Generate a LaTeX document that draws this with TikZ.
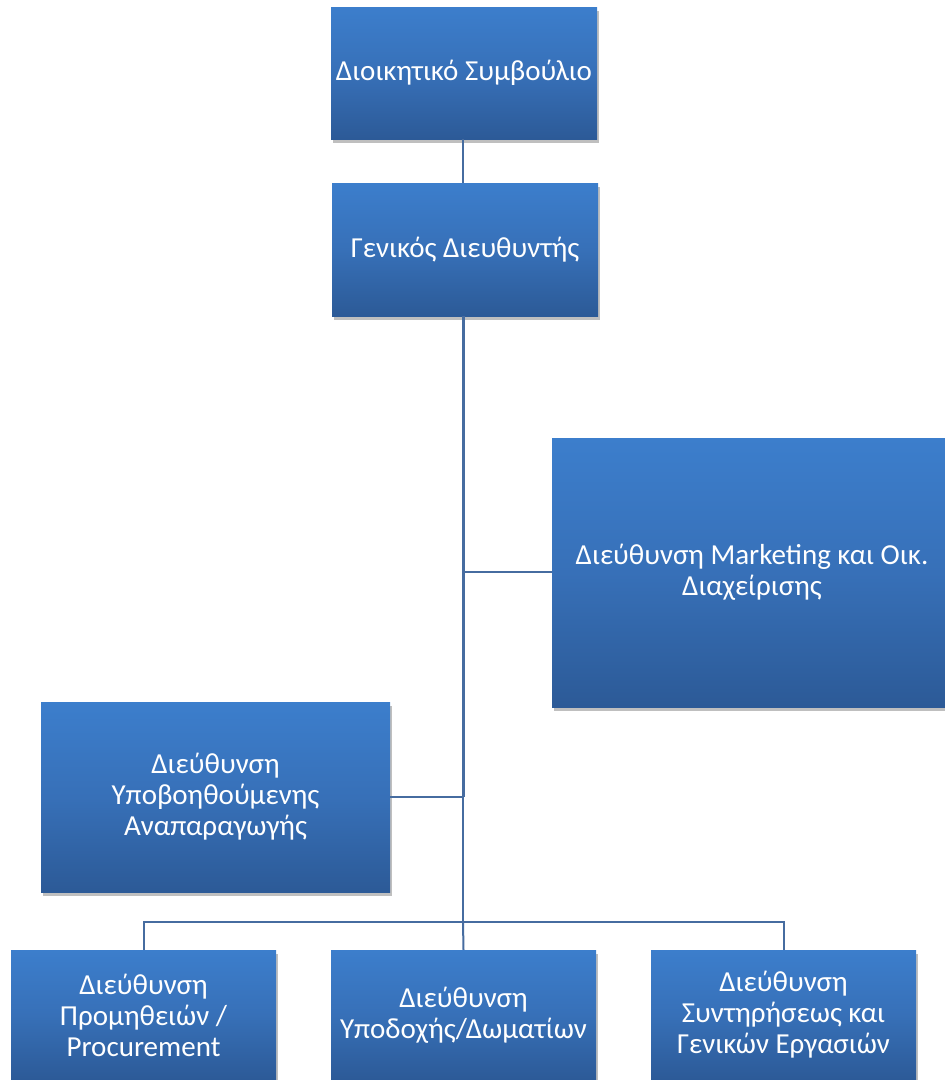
\documentclass[tikz,border=0pt]{standalone}
\usepackage{fontspec}
\setmainfont{Carlito}
\usetikzlibrary{shadows}
\definecolor{boxtop}{RGB}{60,126,204}
\definecolor{boxmid}{RGB}{55,112,184}
\definecolor{boxbot}{RGB}{44,90,151}
\definecolor{linkc}{RGB}{70,108,160}
\tikzset{
  orgbox/.style={rectangle, inner sep=4pt, align=center, text=white,
    top color=boxtop, bottom color=boxbot, middle color=boxmid,
    font=\fontsize{29}{31}\selectfont,
    drop shadow={shadow xshift=2pt, shadow yshift=-4pt, opacity=0.25, fill=black}},
  link/.style={draw=linkc, line width=2pt},
  trunk/.style={draw=linkc, line width=3pt}
}
\begin{document}
\begin{tikzpicture}[x=1pt,y=-1pt]
\useasboundingbox (0,0) rectangle (945,1080);
\node[orgbox, minimum width=266pt, minimum height=132pt] (ds) at (464,73) {Διοικητικό Συμβούλιο};
\node[orgbox, minimum width=266pt, minimum height=133pt] (gd) at (465,249.5) {Γενικός Διευθυντής};
\node[orgbox, minimum width=400pt, minimum height=269pt] (mk) at (752,572.5) {Διεύθυνση Marketing και Οικ.\\Διαχείρισης};
\node[orgbox, minimum width=349pt, minimum height=190pt] (yp) at (215.5,797) {Διεύθυνση\\Υποβοηθούμενης\\Αναπαραγωγής};
\node[orgbox, minimum width=265pt, minimum height=130pt] (pr) at (143.5,1015) {Διεύθυνση\\Προμηθειών /\\Procurement};
\node[orgbox, minimum width=265pt, minimum height=130pt] (yd) at (463.5,1015) {Διεύθυνση\\Υποδοχής/Δωματίων};
\node[orgbox, minimum width=265pt, minimum height=130pt] (sy) at (783.5,1015) {Διεύθυνση\\Συντηρήσεως και\\Γενικών Εργασιών};
\coordinate (jl) at (463,797);
\coordinate (jm) at (463,572);
\coordinate (bar) at (463,922);
\draw[link] (ds.south -| 463,0) -- (gd.north -| 463,0);
\draw[trunk] (gd.south -| 463,0) -- (jl);
\draw[link] (gd.south -| 463,0) -- (bar);
\draw[link] (jm) -- (mk.west |- jm);
\draw[link] (yp.east |- jl) -- (jl);
\draw[link] (pr.north) -- (pr.north |- bar) -- (sy.north |- bar) -- (sy.north);
\draw[link] (bar) -- (yd.north);
\end{tikzpicture}
\end{document}
